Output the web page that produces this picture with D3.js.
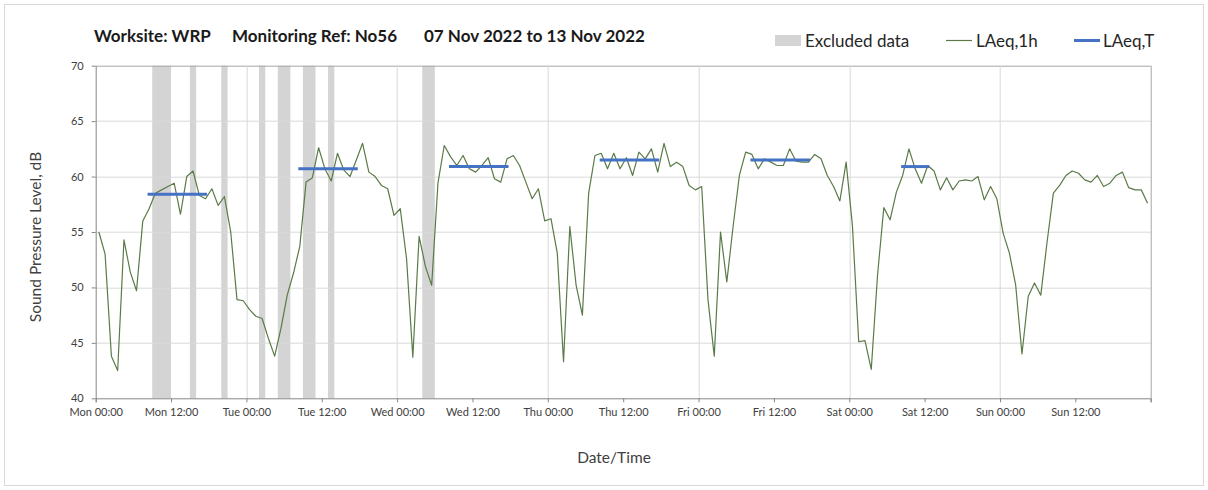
<!DOCTYPE html>
<html>
<head>
<meta charset="utf-8">
<script src="https://cdn.jsdelivr.net/npm/d3@7/dist/d3.min.js"></script>
<style>
  html, body { margin: 0; padding: 0; background: #fff; }
  svg { display: block; }
  text { font-family: Lato, "Open Sans", "DejaVu Sans", sans-serif; }
</style>
</head>
<body>
<svg id="chart" width="1208" height="490"></svg>
<script>
// Hourly LAeq,1h values (dB), one per hour from Mon 07 Nov 2022 00:00
const laeq1h = [
  55.0, 53.0, 43.8, 42.5, 54.3, 51.4, 49.7, 56.0, 57.1, 58.5, 58.8, 59.1,
  59.4, 56.6, 60.0, 60.5, 58.3, 58.0, 58.9, 57.4, 58.2, 55.0, 48.9, 48.8,
  48.0, 47.4, 47.2, 45.4, 43.8, 46.3, 49.3, 51.3, 53.7, 59.5, 59.9, 62.6,
  60.7, 59.6, 62.1, 60.6, 60.0, 61.5, 63.0, 60.4, 60.0, 59.2, 58.9, 56.5,
  57.1, 52.6, 43.7, 54.6, 51.9, 50.2, 59.4, 62.8, 61.8, 61.0, 61.9, 60.7,
  60.4, 61.0, 61.7, 59.8, 59.5, 61.6, 61.9, 61.0, 59.5, 58.0, 58.9, 56.0,
  56.2, 53.1, 43.3, 55.5, 50.2, 47.5, 58.5, 61.9, 62.1, 60.7, 62.1, 60.7,
  61.7, 60.1, 62.2, 61.6, 62.5, 60.4, 63.0, 60.9, 61.3, 60.9, 59.2, 58.8,
  59.1, 48.9, 43.8, 55.0, 50.5, 55.5, 60.1, 62.2, 62.0, 60.7, 61.6, 61.3,
  61.0, 61.0, 62.5, 61.4, 61.3, 61.3, 62.0, 61.6, 60.1, 59.1, 57.8, 61.3,
  55.6, 45.1, 45.2, 42.6, 51.1, 57.2, 56.1, 58.6, 60.1, 62.5, 60.7, 59.4,
  61.0, 60.5, 58.8, 59.9, 58.8, 59.6, 59.7, 59.6, 60.0, 57.9, 59.1, 58.0,
  54.9, 53.1, 50.2, 44.0, 49.2, 50.4, 49.3, 54.1, 58.5, 59.2, 60.1, 60.5,
  60.3, 59.7, 59.5, 60.1, 59.1, 59.4, 60.1, 60.4, 59.0, 58.8, 58.8, 57.6
];

// Excluded periods, hours from the start of the week [from, to)
const excludedFrom = [9, 15, 20, 26, 29, 33, 37, 52];
const excludedTo   = [12, 16, 21, 27, 31, 35, 38, 54];

// LAeq,T daytime periods: first and last hour index, and the level (dB)
const periodFirstHour = [8, 32, 56, 80, 104, 128];
const periodLastHour  = [17, 41, 65, 89, 113, 132];
const periodLevel     = [58.4, 60.7, 60.9, 61.5, 61.5, 60.9];

const yTicks = [40, 45, 50, 55, 60, 65, 70];
const titleParts = ["Worksite: WRP", "Monitoring Ref: No56", "07 Nov 2022 to 13 Nov 2022"];
const legendLabels = ["Excluded data", "LAeq,1h", "LAeq,T"];

const weekStart = new Date(2022, 10, 7, 0, 0);
const weekEnd = d3.timeDay.offset(weekStart, 7);
const atHour = h => new Date(weekStart.getTime() + h * 3600e3);

const svg = d3.select("#chart");
const W = 1208, H = 490;
const margin = { left: 95.7, right: W - 1150.7, top: 65.7, bottom: H - 398.3 };
const pw = W - margin.left - margin.right;
const ph = H - margin.top - margin.bottom;

const lineGreen = "#5b7a47";
const lineBlue = "#4472c4";
const bandGrey = "#d4d4d4";

// outer frame
svg.append("rect").attr("x", 4.5).attr("y", 4.5).attr("width", W - 9).attr("height", H - 9)
  .attr("fill", "#fff").attr("stroke", "#d9d9d9");

const x = d3.scaleTime().domain([weekStart, weekEnd]).range([0, pw]);
const y = d3.scaleLinear().domain([40, 70]).range([ph, 0]);

const g = svg.append("g").attr("transform", `translate(${margin.left},${margin.top})`);

// excluded-data bands
g.append("g").selectAll("rect")
  .data(excludedFrom.map((f, i) => [f, excludedTo[i]]))
  .join("rect")
  .attr("x", d => x(atHour(d[0])))
  .attr("width", d => x(atHour(d[1])) - x(atHour(d[0])))
  .attr("y", 0).attr("height", ph)
  .attr("fill", bandGrey);

// horizontal grid
g.append("g").selectAll("line").data(yTicks.filter(v => v > 40))
  .join("line")
  .attr("x1", 0).attr("x2", pw)
  .attr("y1", d => Math.round(y(d)) + 0.5).attr("y2", d => Math.round(y(d)) + 0.5)
  .attr("stroke", d => d === 70 ? "#a6a6a6" : "#d9d9d9");

// vertical grid at midnight
const midnights = d3.timeDay.range(d3.timeDay.offset(weekStart, 1), weekEnd);
g.append("g").selectAll("line").data(midnights)
  .join("line")
  .attr("x1", d => Math.round(x(d)) + 0.5).attr("x2", d => Math.round(x(d)) + 0.5)
  .attr("y1", 0).attr("y2", ph)
  .attr("stroke", "#d9d9d9");

// right border
g.append("line").attr("x1", pw + 0.5).attr("x2", pw + 0.5).attr("y1", 0).attr("y2", ph)
  .attr("stroke", "#a6a6a6");

// LAeq,1h line (values at the middle of each hour)
const line = d3.line()
  .x((d, i) => x(atHour(i + 0.5)))
  .y(d => y(d));
g.append("path").datum(laeq1h)
  .attr("d", line)
  .attr("fill", "none")
  .attr("stroke", lineGreen)
  .attr("stroke-width", 1.2)
  .attr("stroke-linejoin", "round");

// LAeq,T lines
g.append("g").selectAll("line")
  .data(periodLevel.map((v, i) => ({ a: periodFirstHour[i], b: periodLastHour[i], v })))
  .join("line")
  .attr("x1", d => x(atHour(d.a + 0.5)))
  .attr("x2", d => x(atHour(d.b + 0.5)))
  .attr("y1", d => y(d.v)).attr("y2", d => y(d.v))
  .attr("stroke", lineBlue)
  .attr("stroke-width", 3)
  .attr("stroke-linecap", "square");

// axes
const fmt = d3.timeFormat("%a %H:%M");
const xAxis = d3.axisBottom(x)
  .ticks(d3.timeHour.every(12))
  .tickFormat(fmt)
  .tickSizeOuter(0)
  .tickSize(4)
  .tickPadding(6);
const xg = g.append("g").attr("transform", `translate(0,${ph})`).call(xAxis);
xg.selectAll("text").filter(d => +d >= +weekEnd).remove();

const yAxis = d3.axisLeft(y).tickValues(yTicks).tickSize(4).tickSizeOuter(0).tickPadding(8);
const yg = g.append("g").call(yAxis);

[xg, yg].forEach(a => {
  a.select(".domain").attr("stroke", "#868686");
  a.selectAll(".tick line").attr("stroke", "#868686");
  a.selectAll(".tick text").attr("fill", "#404040").style("font-size", "11px");
});

// axis titles
svg.append("text")
  .attr("transform", `translate(41,237) rotate(-90)`)
  .attr("text-anchor", "middle")
  .attr("fill", "#404040")
  .style("font-size", "15.5px")
  .text("Sound Pressure Level, dB");

svg.append("text")
  .attr("x", 614).attr("y", 463)
  .attr("text-anchor", "middle")
  .attr("fill", "#404040")
  .style("font-size", "15.5px")
  .text("Date/Time");

// title
const titleX = [94, 232, 424];
svg.append("g").selectAll("text").data(titleParts)
  .join("text")
  .attr("x", (d, i) => titleX[i]).attr("y", 42)
  .attr("fill", "#1a1a1a")
  .style("font-size", "17px").style("font-weight", "bold")
  .text(d => d);

// legend
const lg = svg.append("g");
lg.append("rect").attr("x", 775).attr("y", 35).attr("width", 26).attr("height", 11).attr("fill", bandGrey);
lg.append("line").attr("x1", 946).attr("x2", 972).attr("y1", 40.5).attr("y2", 40.5)
  .attr("stroke", lineGreen).attr("stroke-width", 1.2);
lg.append("line").attr("x1", 1074).attr("x2", 1100).attr("y1", 40.5).attr("y2", 40.5)
  .attr("stroke", lineBlue).attr("stroke-width", 3);
const legendX = [805, 976, 1103];
lg.selectAll("text").data(legendLabels).join("text")
  .attr("x", (d, i) => legendX[i]).attr("y", 46.5)
  .attr("fill", "#262626")
  .style("font-size", "17px")
  .text(d => d);
</script>
</body>
</html>
